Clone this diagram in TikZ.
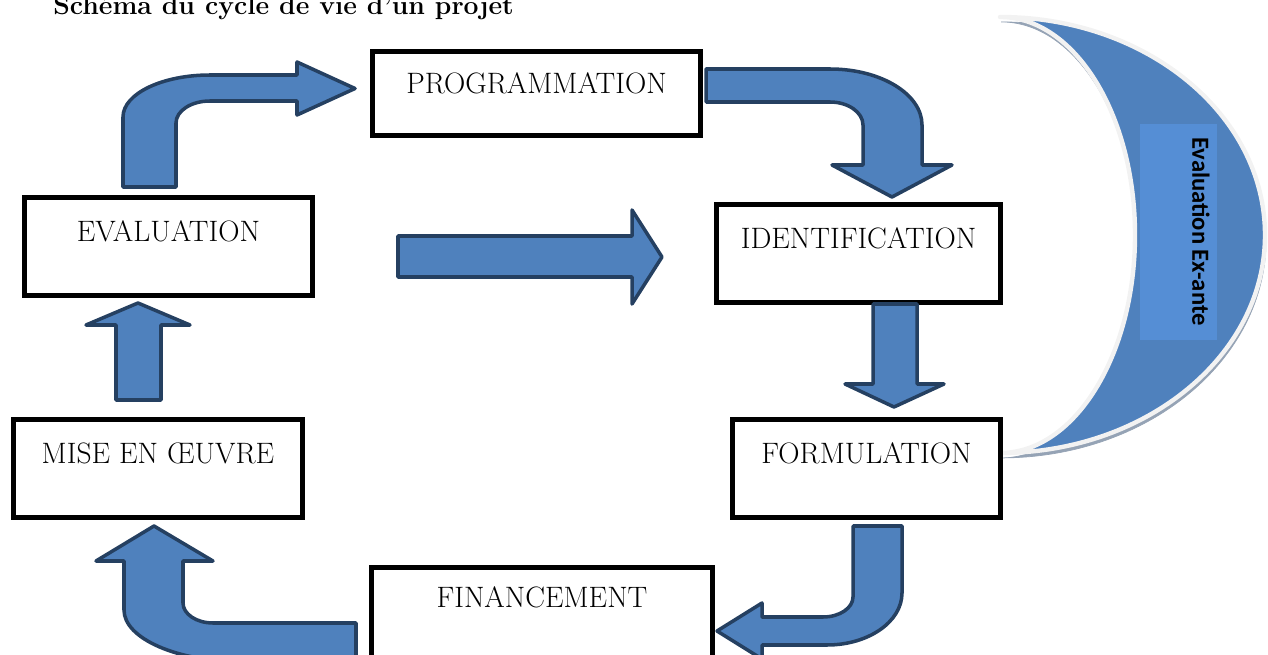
\documentclass[tikz,border=0pt]{standalone}
\usepackage{fontspec}
\newfontfamily\tagfont{Carlito}
\definecolor{arrowfill}{HTML}{4F81BD}
\definecolor{arrowline}{HTML}{254061}
\definecolor{moonedge}{HTML}{F2F2F2}
\definecolor{moonshade}{HTML}{95A3B5}
\definecolor{tagfill}{HTML}{558ED5}
\tikzset{
  stage/.style={draw, line width=2.8pt, fill=white, inner sep=0pt,
    font=\fontsize{16.8}{20}\selectfont, text height=10pt, text depth=16pt},
  blockarrow/.style={fill=arrowfill, draw=arrowline, line width=2pt, line join=round},
  moon/.style={fill=arrowfill, draw=moonedge, line width=2.5pt, line join=round,
    preaction={fill=moonshade, draw=moonshade, transform canvas={xshift=0.6pt, yshift=-2.8pt}}}
}
\begin{document}
\begin{tikzpicture}[x=0.02cm, y=-0.02cm]
  \useasboundingbox (0,0) rectangle (1268,655);
  \clip (0,0) rectangle (1268,655);
  \node[anchor=base west, inner sep=0pt, font=\bfseries\fontsize{15.1}{18}\selectfont] (title) at (53,15) {Schéma du cycle de vie d'un projet};
  % evaluation ex-ante
  \path[moon] (1000,17) .. controls (1146.4,17) and (1265,114.6) .. (1265,235)
    .. controls (1265,355.4) and (1146.4,453) .. (1000,453)
    .. controls (1074.6,453) and (1135,355.4) .. (1135,235)
    .. controls (1135,114.6) and (1074.6,17) .. (1000,17) -- cycle;
  \node[fill=tagfill, minimum width=1.54cm, minimum height=4.32cm, inner sep=0pt] (tag) at (1178.5,232) {};
  \node[rotate=-90, inner sep=0pt, font=\tagfont\bfseries\fontsize{14}{16}\selectfont] (tagtext) at (1201,231.5) {Evaluation Ex-ante};
  % stages
  \draw
    (536.5,93.5) node[stage, minimum width=6.56cm, minimum height=1.68cm, text depth=10pt] (prog) {PROGRAMMATION}
    (858.5,253.5) node[stage, minimum width=5.68cm, minimum height=1.96cm] (ident) {IDENTIFICATION}
    (866.5,468.5) node[stage, minimum width=5.36cm, minimum height=1.96cm] (formu) {FORMULATION}
    (542,616.5) node[stage, minimum width=6.82cm, minimum height=1.96cm, text depth=20pt] (finan) {FINANCEMENT}
    (158,468.5) node[stage, minimum width=5.77cm, minimum height=1.96cm] (mise) {MISE EN ŒUVRE}
    (168.5,246.5) node[stage, minimum width=5.76cm, minimum height=1.96cm] (eval) {EVALUATION};
  % arrows
  \draw[blockarrow] (123,187) -- (123,117) .. controls (123,93.8) and (162,75) .. (210,75) -- (297,75) -- (297,62)
    -- (355,88.5) -- (297,115) -- (297,101) -- (210,101) .. controls (191.2,101) and (176,110.8) .. (176,123) -- (176,187) -- cycle;
  \draw[blockarrow] (706,69) -- (830,69) .. controls (880.8,69) and (922,94.1) .. (922,125) -- (922,165) -- (952,165)
    -- (892,197) -- (832,165) -- (863,165) -- (863,125) .. controls (863,112.3) and (848.2,102) .. (830,102) -- (706,102) -- cycle;
  \draw[blockarrow] (398,236) -- (632,236) -- (632,210) -- (662,257) -- (632,304) -- (632,277) -- (398,277) -- cycle;
  \draw[blockarrow] (873,304) -- (873,384) -- (845,384) -- (894,407) -- (944,384) -- (917,384) -- (917,304) -- cycle;
  \draw[blockarrow] (853,526) -- (902,526) -- (902,593) .. controls (902,621.7) and (868.4,645) .. (827,645) -- (762,645)
    -- (762,659) -- (717,631) -- (762,603) -- (762,617) -- (823,617) .. controls (839.6,617) and (853,608) .. (853,597) -- cycle;
  \draw[blockarrow] (116,400) -- (116,325) -- (86,325) -- (138,303) -- (190,325) -- (161,325) -- (161,400) -- cycle;
  \draw[blockarrow] (356,623) -- (213,623) .. controls (196.4,623) and (183,614) .. (183,603) -- (183,561) -- (213,561)
    -- (154,526) -- (96,561) -- (124,561) -- (124,610) .. controls (124,638.7) and (177.7,662) .. (244,662) -- (356,662) -- cycle;
\end{tikzpicture}
\end{document}
